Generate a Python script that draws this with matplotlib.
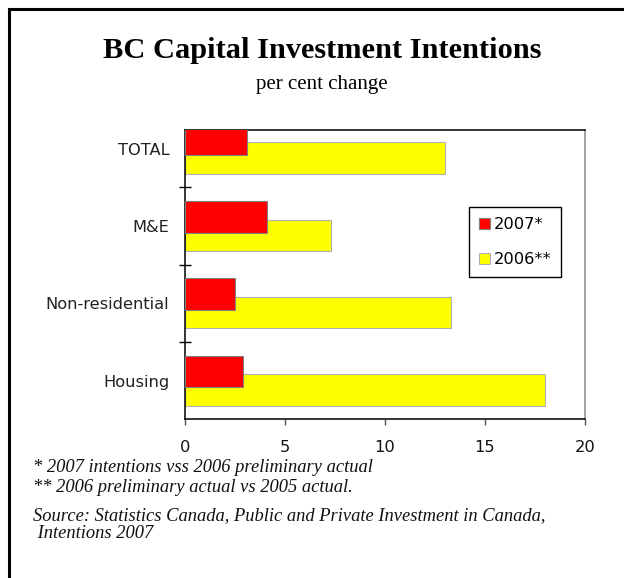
import numpy as np
import matplotlib
matplotlib.use("Agg")
import matplotlib.pyplot as plt
from matplotlib.lines import Line2D

# data (per cent change), bottom to top
categories = ["Housing", "Non-residential", "M&E", "TOTAL"]
intent_2007 = [2.9, 2.5, 4.1, 3.1]
prelim_2006 = [18.0, 13.3, 7.3, 13.0]
xticks = [0, 5, 10, 15, 20]

W, H = 624, 578
fig = plt.figure(figsize=(W / 100, H / 100), dpi=100)

# outer frame (left + top only)
fig.add_artist(Line2D([9 / W, 9 / W], [0, 1 - 9 / H], color="black", lw=2.2))
fig.add_artist(Line2D([9 / W, 1], [1 - 9 / H, 1 - 9 / H], color="black", lw=2.2))

ax = fig.add_axes([184.7 / W, 1 - 419.3 / H, 400.3 / W, 289.3 / H])

y = np.arange(len(categories))
off, h = 0.12, 0.41
ax.barh(y - off, prelim_2006, height=h, color="#FFFF00", edgecolor="#B0B0B0",
        linewidth=0.8, label="2006**", zorder=2)
ax.barh(y + off, intent_2007, height=h, color="#FF0000", edgecolor="#808080",
        linewidth=0.8, label="2007*", zorder=3)

ax.set_xlim(0, 20)
ax.set_ylim(-0.5, 3.243)
ax.set_xticks(xticks)
ax.set_xticklabels([str(t) for t in xticks])
ax.set_yticks(y)
ax.set_yticklabels(categories)
ax.set_yticks([0.5, 1.5, 2.5], minor=True)

ax.tick_params(axis="y", which="major", length=0, pad=11, labelsize=11.7, labelcolor="#222222")
ax.tick_params(axis="y", which="minor", direction="inout", length=9, width=1, color="black")
ax.tick_params(axis="x", which="major", direction="out", length=4, width=1, color="#555555",
               pad=11, labelsize=11.7, labelcolor="#111111")

for s in ["left", "bottom", "top"]:
    ax.spines[s].set_color("black")
    ax.spines[s].set_linewidth(1.1)
ax.spines["right"].set_color("#888888")
ax.spines["right"].set_linewidth(1.1)

handles, labels = ax.get_legend_handles_labels()
leg = ax.legend(handles[::-1], labels[::-1], loc="upper left",
                bbox_to_anchor=((469 - 184.7) / 400.3, (419.3 - 207) / 289.3),
                fontsize=11.7, frameon=True, fancybox=False, framealpha=1,
                edgecolor="black", handlelength=0.7, handleheight=0.7,
                handletextpad=0.2, labelspacing=1.25, borderpad=0.62, borderaxespad=0)
leg.get_frame().set_linewidth(1.0)

# titles
fig.text(322 / W, 1 - 51 / H, "BC Capital Investment Intentions", ha="center", va="center",
         family="Liberation Serif", fontweight="bold", fontsize=21.9)
fig.text(322 / W, 1 - 85 / H, "per cent change", ha="center", va="center",
         family="Liberation Serif", fontsize=15)

# footnotes
notes = [
    (467, "* 2007 intentions vss 2006 preliminary actual"),
    (488, "** 2006 preliminary actual vs 2005 actual."),
    (516, "Source: Statistics Canada, Public and Private Investment in Canada,"),
    (534, " Intentions 2007"),
]
for yy, txt in notes:
    fig.text(33 / W, 1 - yy / H, txt, ha="left", va="center",
             family="Liberation Serif", style="italic", fontsize=13.3, color="#111111")

fig.savefig("out.png", dpi=100, facecolor="white")
